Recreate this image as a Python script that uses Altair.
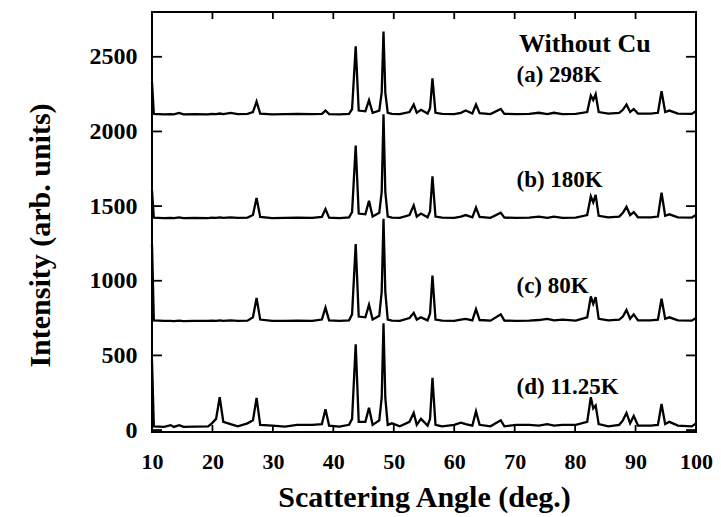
import altair as alt
import pandas as pd

# Shared scattering angles (deg.)
angles = [
    10.0, 10.3, 12.0, 13.1, 13.6, 14.5, 15.2, 17.0, 19.3, 19.9,
    20.6, 21.2, 21.8, 23.0, 24.2, 25.8, 26.7, 27.3, 27.9, 29.9,
    32.0, 34.0, 36.5, 38.1, 38.7, 39.3, 41.0, 42.6, 43.1, 43.7,
    44.2, 45.3, 45.9, 46.5, 47.6, 48.0, 48.3, 48.6, 49.0, 49.7,
    51.0, 52.6, 53.3, 53.8, 54.5, 55.6, 56.0, 56.4, 56.9, 58.0,
    60.0, 61.1, 61.9, 63.0, 63.6, 64.2, 66.0, 67.7, 68.3, 70.2,
    72.4, 74.0, 75.4, 76.5, 77.9, 80.1, 82.0, 82.6, 83.0, 83.4,
    83.9, 85.5, 87.3, 87.9, 88.5, 89.1, 89.7, 90.4, 92.5, 93.7,
    94.3, 94.9, 95.6, 97.0, 99.3, 100.0,
]

trace_names = ["(a) 298K", "(b) 180K", "(c) 80K", "(d) 11.25K"]
trace_offsets = [2110, 1415, 725, 15]

int_a = [
    220, 8, 5, 6, 4, 14, 5, 6, 5, 8,
    6, 10, 6, 14, 6, 8, 20, 90, 10, 5,
    6, 8, 6, 8, 30, 6, 5, 8, 40, 460,
    30, 25, 100, 15, 30, 150, 560, 150, 15, 8,
    6, 20, 70, 15, 35, 10, 45, 245, 15, 8,
    6, 15, 30, 10, 70, 12, 6, 40, 8, 6,
    8, 15, 6, 15, 6, 8, 20, 130, 100, 140,
    20, 10, 15, 35, 70, 20, 40, 10, 10, 15,
    160, 20, 30, 10, 8, 25,
]
int_b = [
    190, 8, 5, 6, 5, 10, 5, 6, 5, 8,
    6, 10, 6, 10, 6, 8, 25, 140, 12, 5,
    6, 8, 6, 12, 65, 8, 5, 10, 45, 490,
    35, 30, 120, 15, 40, 180, 700, 180, 15, 8,
    6, 25, 90, 15, 35, 10, 50, 285, 15, 8,
    6, 15, 25, 10, 75, 12, 6, 40, 8, 6,
    8, 15, 6, 15, 6, 8, 25, 150, 110, 160,
    20, 10, 15, 40, 80, 25, 45, 10, 10, 15,
    175, 20, 30, 10, 8, 25,
]
int_c = [
    520, 10, 6, 6, 5, 8, 5, 6, 6, 8,
    6, 10, 6, 10, 6, 8, 30, 160, 15, 6,
    6, 8, 6, 15, 95, 10, 6, 10, 50, 520,
    35, 30, 115, 15, 40, 200, 690, 200, 15, 8,
    6, 25, 60, 15, 30, 10, 55, 310, 15, 8,
    6, 15, 20, 10, 85, 12, 8, 50, 8, 6,
    8, 12, 20, 10, 15, 8, 30, 170, 120, 165,
    20, 10, 15, 35, 80, 20, 50, 10, 10, 15,
    155, 20, 30, 10, 8, 25,
]
int_d = [
    450, 10, 6, 18, 6, 18, 6, 8, 10, 30,
    60, 205, 40, 25, 10, 30, 50, 200, 20, 15,
    8, 20, 20, 25, 125, 15, 8, 20, 60, 560,
    40, 40, 135, 20, 50, 200, 700, 200, 20, 30,
    10, 40, 100, 20, 60, 15, 60, 335, 20, 10,
    20, 35, 25, 15, 110, 20, 10, 50, 10, 20,
    20, 15, 25, 15, 20, 20, 40, 205, 130, 150,
    25, 10, 20, 50, 100, 30, 80, 15, 15, 20,
    160, 25, 40, 15, 10, 30,
]

x_ticks = [10, 20, 30, 40, 50, 60, 70, 80, 90, 100]
y_ticks = [0, 500, 1000, 1500, 2000, 2500]

label_texts = ["Without Cu", "(a) 298K", "(b) 180K", "(c) 80K", "(d) 11.25K"]
label_angle = [70.7, 70.3, 70.3, 70.3, 70.3]
label_intensity = [2530, 2330, 1625, 915, 240]
label_size = [26, 23, 23, 23, 23]

X_DOM = [10, 100]
Y_DOM = [-13, 2800]

rows = []
for name, off, vals in zip(trace_names, trace_offsets, [int_a, int_b, int_c, int_d]):
    assert len(vals) == len(angles)
    for a, v in zip(angles, vals):
        rows.append({"trace": name, "angle": a, "intensity": off + v})
df = pd.DataFrame(rows)

FONT = "Liberation Serif"
xscale = alt.Scale(domain=X_DOM, nice=False, zero=False)
yscale = alt.Scale(domain=Y_DOM, nice=False, zero=False)

lines = alt.Chart(df).mark_line(color="black", strokeWidth=2.3, strokeJoin="miter").encode(
    x=alt.X("angle:Q", scale=xscale,
            axis=alt.Axis(values=x_ticks, format="d", title="Scattering Angle (deg.)",
                          grid=False, ticks=False, domain=False, labelFont=FONT,
                          labelFontSize=22, labelFontWeight="bold", labelColor="black",
                          labelPadding=19, labelFlush=False, titleFont=FONT,
                          titleFontSize=30, titleFontWeight="bold", titleColor="black",
                          titlePadding=10)),
    y=alt.Y("intensity:Q", scale=yscale,
            axis=alt.Axis(values=y_ticks, format="d", title="Intensity (arb. units)",
                          grid=False, ticks=False, domain=False, labelFont=FONT,
                          labelFontSize=24, labelFontWeight="bold", labelColor="black",
                          labelPadding=15, labelFlush=False, titleFont=FONT,
                          titleFontSize=30, titleFontWeight="bold", titleColor="black",
                          titleAngle=270, titleX=-112, titleY=223,
                          titleAlign="center", titleBaseline="middle")),
    detail="trace:N",
    order="angle:Q",
)

# inward tick marks
xt_df = pd.DataFrame(
    [{"angle": t, "intensity": Y_DOM[0], "intensity_end": Y_DOM[0] + 47} for t in x_ticks]
    + [{"angle": t, "intensity": Y_DOM[1], "intensity_end": Y_DOM[1] - 47} for t in x_ticks]
)
yt_df = pd.DataFrame(
    [{"angle": X_DOM[0], "angle_end": X_DOM[0] + 1.65, "intensity": t} for t in y_ticks]
    + [{"angle": X_DOM[1], "angle_end": X_DOM[1] - 1.65, "intensity": t} for t in y_ticks]
)
xt = alt.Chart(xt_df).mark_rule(color="black", strokeWidth=1.8).encode(
    x=alt.X("angle:Q", scale=xscale),
    y=alt.Y("intensity:Q", scale=yscale),
    y2="intensity_end:Q",
)
yt = alt.Chart(yt_df).mark_rule(color="black", strokeWidth=1.8).encode(
    x=alt.X("angle:Q", scale=xscale),
    x2="angle_end:Q",
    y=alt.Y("intensity:Q", scale=yscale),
)

lab_df = pd.DataFrame({"text": label_texts, "angle": label_angle,
                       "intensity": label_intensity, "size": label_size})
labels = alt.Chart(lab_df).mark_text(font=FONT, fontWeight="bold", color="black",
                                     align="left", baseline="alphabetic").encode(
    x=alt.X("angle:Q", scale=xscale),
    y=alt.Y("intensity:Q", scale=yscale),
    text="text:N",
    size=alt.Size("size:Q", scale=None, legend=None),
)

chart = alt.layer(lines, xt, yt, labels).properties(
    width=544, height=420,
    autosize=alt.AutoSizeParams(type="none"),
    padding={"left": 144, "top": 4, "right": 17, "bottom": 85},
    background="white",
).configure_view(stroke="black", strokeWidth=2)

chart.save("out.html", embed_options={"renderer": "svg", "actions": False})
